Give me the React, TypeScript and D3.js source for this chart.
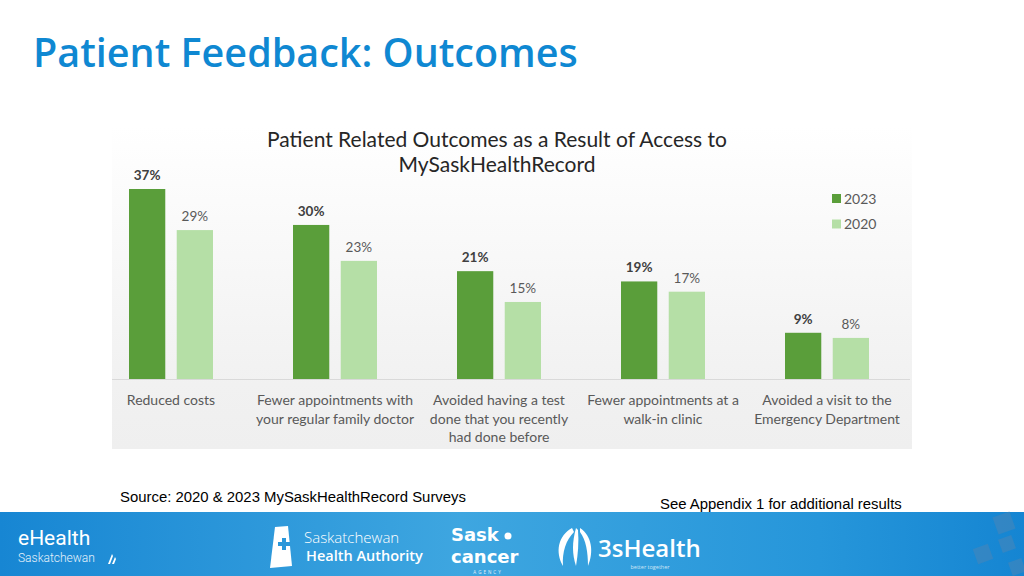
import React from "react";
import * as d3 from "d3";

const categories: string[][] = [
  ["Reduced costs"],
  ["Fewer appointments with", "your regular family doctor"],
  ["Avoided having a test", "done that you recently", "had done before"],
  ["Fewer appointments at a", "walk-in clinic"],
  ["Avoided a visit to the", "Emergency Department"],
];
const series = ["2023", "2020"];
const values2023 = [37, 30, 21, 19, 9];
const values2020 = [29, 23, 15, 17, 8];
const colors = ["#5a9e3a", "#b5dfa6"];

export default function App() {
  const x0 = d3.scaleBand<number>().domain(d3.range(categories.length)).range([89, 909]).padding(0);
  const x1 = d3.scaleBand<string>().domain(series).range([40, 124]).paddingInner(0.24).paddingOuter(0);
  const y = d3.scaleLinear().domain([0, 37]).range([379, 189]);
  const data = [values2023, values2020];
  const chartFont = "Lato, 'Open Sans', sans-serif";

  return (
    <svg width={1024} height={576} style={{ position: "absolute", left: 0, top: 0 }} fontFamily={chartFont}>
      <defs>
        <linearGradient id="bg" x1="0" y1="0" x2="0" y2="1">
          <stop offset="0" stopColor="#ffffff" />
          <stop offset="0.8" stopColor="#f1f1f1" />
          <stop offset="1" stopColor="#efefef" />
        </linearGradient>
        <linearGradient id="band" x1="0" y1="0" x2="1" y2="0">
          <stop offset="0" stopColor="#1786d3" />
          <stop offset="0.45" stopColor="#3ea6e0" />
          <stop offset="0.8" stopColor="#2696da" />
          <stop offset="1" stopColor="#1585d2" />
        </linearGradient>
      </defs>
      <rect x={0} y={0} width={1024} height={576} fill="#ffffff" />
      <text x={33} y={67} fontFamily="'Open Sans', sans-serif" fontWeight={600} fontSize={39.5} fill="#0f88d2">
        Patient Feedback: Outcomes
      </text>

      <rect x={112} y={127} width={800} height={322} fill="url(#bg)" />
      <text x={497} y={147} textAnchor="middle" fontSize={21} fill="#262626">
        Patient Related Outcomes as a Result of Access to
      </text>
      <text x={497} y={172} textAnchor="middle" fontSize={21} fill="#262626">
        MySaskHealthRecord
      </text>

      {categories.map((cat, i) => (
        <g key={i} transform={`translate(${x0(i)},0)`}>
          {series.map((s, j) => {
            const v = data[j][i];
            const bx = x1(s)!;
            return (
              <g key={s}>
                <rect x={bx} y={y(v)} width={x1.bandwidth()} height={y(0) - y(v)} fill={colors[j]} />
                <text
                  x={bx + x1.bandwidth() / 2}
                  y={y(v) - 9}
                  textAnchor="middle"
                  fontSize={13.5}
                  fontWeight={j === 0 ? 700 : 400}
                  fill={j === 0 ? "#404040" : "#595959"}
                >
                  {v}%
                </text>
              </g>
            );
          })}
          {cat.map((line, k) => (
            <text key={k} x={x0.bandwidth() / 2} y={405 + k * 18.5} textAnchor="middle" fontSize={14} fill="#595959">
              {line}
            </text>
          ))}
        </g>
      ))}
      <line x1={112} x2={910} y1={379.5} y2={379.5} stroke="#d9d9d9" strokeWidth={1} />

      {series.map((s, j) => (
        <g key={s} transform={`translate(832,${194 + j * 25.5})`}>
          <rect x={0} y={0} width={9} height={9} fill={colors[j]} />
          <text x={12} y={9.5} fontSize={14} fill="#595959">
            {s}
          </text>
        </g>
      ))}

      <text x={120} y={502} fontFamily="'Liberation Sans', Arial, sans-serif" fontSize={14.9} fill="#000">
        Source: 2020 &amp; 2023 MySaskHealthRecord Surveys
      </text>
      <text x={660} y={509} fontFamily="'Liberation Sans', Arial, sans-serif" fontSize={14.9} fill="#000">
        See Appendix 1 for additional results
      </text>

      <rect x={0} y={512} width={1024} height={64} fill="url(#band)" />
      <g fill="#4a86b8" opacity={0.55}>
        <rect x={995} y={514} width={18} height={18} transform="rotate(-20 1004 523)" />
        <rect x={1000} y={537} width={14} height={14} transform="rotate(-20 1007 544)" />
        <rect x={975} y={546} width={16} height={16} transform="rotate(-20 983 554)" />
        <rect x={1010} y={560} width={14} height={14} transform="rotate(-20 1017 567)" />
      </g>
      <text x={18} y={545} fontFamily="Roboto, sans-serif" fontSize={21} fill="#fff">eHealth</text>
      <text x={18} y={562} fontFamily="Roboto, sans-serif" fontWeight={300} fontSize={12} fill="#e6f2fb">Saskatchewan</text>
      <path d="M108,564 l4,-10 l1,2 l-3,8 z M112,564 l3,-7 l1,2 l-2,5 z" fill="#fff" />

      <path d="M275,527 L288,526 L292,566 L270,568 Z" fill="#fff" />
      <path d="M278,542 h4 v-4 h4 v4 h4 v4 h-4 v4 h-4 v-4 h-4 z" fill="#2a97da" />
      <text x={304} y={543} fontFamily="'Open Sans', sans-serif" fontWeight={300} fontSize={15} fill="#fff">Saskatchewan</text>
      <text x={306} y={561} fontFamily="'Open Sans', sans-serif" fontWeight={600} fontSize={14.5} fill="#fff">Health Authority</text>

      <text x={451} y={541} fontFamily="'DejaVu Sans', sans-serif" fontWeight={700} fontSize={18} fill="#fff">Sask</text>
      <circle cx={508} cy={536} r={3.5} fill="#fff" />
      <text x={451} y={562.5} fontFamily="'DejaVu Sans', sans-serif" fontWeight={700} fontSize={18} fill="#fff">cancer</text>
      <text x={488} y={573.5} textAnchor="middle" fontFamily="'Open Sans', sans-serif" fontSize={4.5} letterSpacing={2} fill="#e6f2fb">AGENCY</text>

      <path d="M572,528 C558,536 555,552 563,566 C562,552 566,540 574,532 Z" fill="#fff" />
      <path d="M576,528 C572,542 572,554 576,566 C578,554 579,542 578,530 Z" fill="#fff" />
      <path d="M580,528 C592,536 594,552 588,566 C588,552 586,540 580,532 Z" fill="#fff" />
      <text x={598} y={557} fontFamily="'Open Sans', sans-serif" fontWeight={600} fontSize={24} fill="#fff">3sHealth</text>
      <text x={650} y={569} textAnchor="middle" fontFamily="'Open Sans', sans-serif" fontSize={5.5} fill="#cfe6f6">better together</text>
    </svg>
  );
}
